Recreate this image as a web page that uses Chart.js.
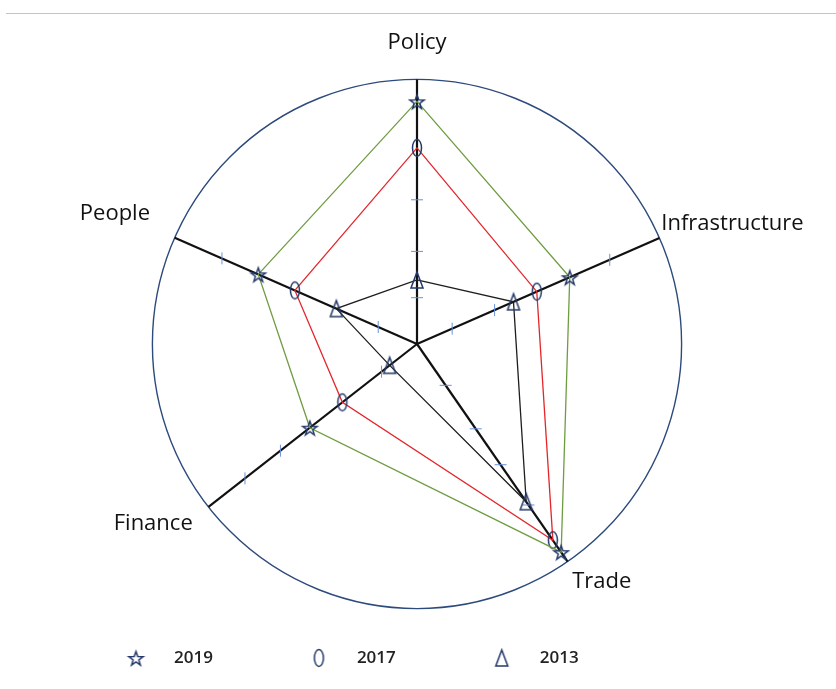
<!DOCTYPE html>
<html>
<head>
<meta charset="utf-8">
<script src="https://cdn.jsdelivr.net/npm/chart.js@4.4.1/dist/chart.umd.min.js"></script>
<style>
  html, body { margin: 0; padding: 0; background: #fff; }
  #wrap { position: relative; width: 836px; height: 689px; }
  #rule { position: absolute; left: 6px; right: 0; top: 13px; height: 1px; background: #c4c4c4; }
  canvas { position: absolute; left: 0; top: 0; }
</style>
</head>
<body>
<div id="wrap"><div id="rule"></div><canvas id="radar" width="836" height="689"></canvas></div>
<script>
// axes, clockwise from the top
var categories = ['Policy', 'Infrastructure', 'Trade', 'Finance', 'People'];
var years = ['2019', '2017', '2013'];
var values2019 = [9.17, 6.3, 9.57, 5.14, 6.55];
var values2017 = [7.41, 4.94, 9.02, 3.58, 5.04];
var values2013 = [2.42, 3.98, 7.25, 1.31, 3.33];
// little blue marks along each axis (scale value)
var axisTicks = [
  [1.75, 3.5, 5.45],
  [1.45, 3.2, 7.95],
  [1.9, 3.9, 5.55, 7.4],
  [1.7, 6.55, 8.25],
  [1.6, 8.05]
];

// the axes are not evenly spread in the original drawing (degrees from top)
var axisAngles = [0, 66.4, 145.3, 232, 293.7];
var labelPadding = [23, 2, 8, 20, 27];

var navy = '#24396a';
var lineColors = ['#6f9c42', '#e3262a', '#1e1e1e'];

function markerImage(shape, w, h, cx) {
  var c = document.createElement('canvas');
  c.width = w;
  c.height = h;
  var g = c.getContext('2d');
  var cy = h / 2;
  g.strokeStyle = navy;
  g.lineWidth = 1.5;
  g.beginPath();
  if (shape === 'star') {
    for (var k = 0; k < 10; k++) {
      var r = k % 2 ? 3 : 7.5;
      var a = -Math.PI / 2 + k * Math.PI / 5;
      var px = cx + r * Math.cos(a), py = cy + 1 + r * Math.sin(a);
      if (k) g.lineTo(px, py); else g.moveTo(px, py);
    }
    g.closePath();
  } else if (shape === 'ellipse') {
    g.ellipse(cx, cy, 4.5, 8.5, 0, 0, Math.PI * 2);
  } else {
    g.moveTo(cx, cy - 8);
    g.lineTo(cx + 6, cy + 8);
    g.lineTo(cx - 6, cy + 8);
    g.closePath();
  }
  g.stroke();
  return c;
}

var shapes = ['star', 'ellipse', 'triangle'];
var pointMarkers = shapes.map(function (s) { return markerImage(s, 20, 22, 10); });
var legendMarkers = shapes.map(function (s) { return markerImage(s, 121, 22, 91.5); });

class SkewedRadialScale extends Chart.RadialLinearScale {
  getIndexAngle(index) {
    return axisAngles[index] * Math.PI / 180;
  }
}
SkewedRadialScale.id = 'skewedRadial';
Chart.register(SkewedRadialScale);

var axisTickPlugin = {
  id: 'axisTicks',
  beforeDatasetsDraw: function (chart) {
    var scale = chart.scales.r, g = chart.ctx;
    g.save();
    g.strokeStyle = '#6a90dc';
    g.lineWidth = 1;
    axisTicks.forEach(function (list, i) {
      var end = scale.getPointPositionForValue(i, scale.max);
      var vertical = Math.abs(end.x - scale.xCenter) > Math.abs(end.y - scale.yCenter);
      list.forEach(function (v) {
        var p = scale.getPointPositionForValue(i, v);
        g.beginPath();
        if (vertical) { g.moveTo(p.x, p.y - 6); g.lineTo(p.x, p.y + 6); }
        else { g.moveTo(p.x - 6, p.y); g.lineTo(p.x + 6, p.y); }
        g.stroke();
      });
    });
    g.restore();
  }
};

var seriesValues = [values2019, values2017, values2013];
var datasets = years.map(function (y, i) {
  return {
    label: y,
    data: seriesValues[i],
    borderColor: lineColors[i],
    backgroundColor: 'transparent',
    borderWidth: 1.3,
    fill: false,
    pointStyle: pointMarkers[i],
    pointRadius: 7
  };
});

var chartCanvas = document.getElementById('radar');
var myChart = new Chart(chartCanvas, {
  type: 'radar',
  data: { labels: categories, datasets: datasets },
  options: {
    responsive: false,
    animation: false,
    layout: { padding: { top: 6, bottom: 12.5, left: 30, right: 0 } },
    elements: { line: { tension: 0 } },
    scales: {
      r: {
        type: 'skewedRadial',
        min: 0,
        max: 10,
        ticks: { display: false, stepSize: 10 },
        grid: { circular: true, color: '#2c4a7c', lineWidth: 1.4 },
        angleLines: { color: '#111', lineWidth: 2.2 },
        pointLabels: {
          color: '#111',
          font: function (ctx) {
            // Finance sits a little higher than the default placement
            return { family: 'Open Sans', size: 22, lineHeight: ctx.index === 3 ? 0.4 : 1.2 };
          },
          padding: function (ctx) { return labelPadding[ctx.index]; }
        }
      }
    },
    plugins: {
      tooltip: { enabled: false },
      legend: {
        position: 'bottom',
        align: 'start',
        labels: {
          usePointStyle: true,
          pointStyleWidth: 121,
          padding: 14.5,
          color: '#222',
          font: { family: 'Open Sans', size: 17, weight: '600' },
          generateLabels: function (chart) {
            var items = Chart.defaults.plugins.legend.labels.generateLabels(chart);
            items.forEach(function (it, i) { it.pointStyle = legendMarkers[i]; });
            return items;
          }
        }
      }
    }
  },
  plugins: [axisTickPlugin]
});
</script>
</body>
</html>
